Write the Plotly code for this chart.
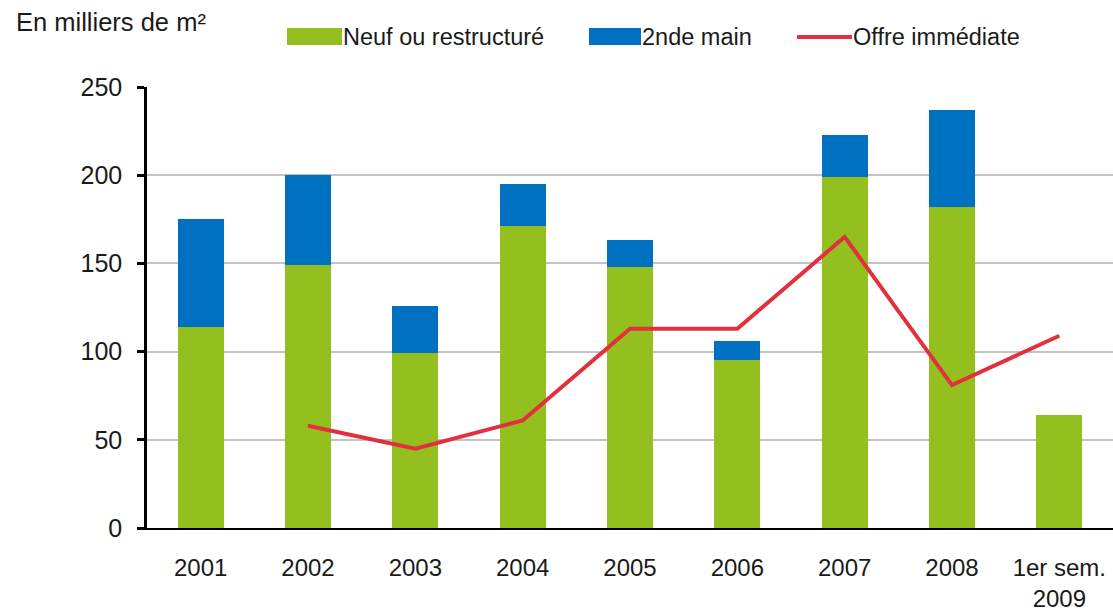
import plotly.graph_objects as go

categories = ["2001", "2002", "2003", "2004", "2005", "2006", "2007", "2008", "1er sem.<br>2009"]
neuf = [114, 149, 99, 171, 148, 95, 199, 182, 64]
seconde_main = [61, 51, 27, 24, 15, 11, 24, 55, 0]
offre = [None, 58, 45, 61, 113, 113, 165, 81, 109]

GREEN = "#93c01f"
BLUE = "#0070c0"
RED = "#e2313d"
FONT = "Liberation Sans, Arial, sans-serif"
TXT = "#1a1a1a"

W, H = 1113, 612
L, T, B = 147, 87, 84
pw = W - L
ph = H - T - B

def px(x):
    return (x - L) / pw

def py(y):
    return (H - B - y) / ph

fig = go.Figure()
fig.add_bar(x=categories, y=neuf, name="Neuf ou restructuré", marker_color=GREEN,
            marker_line_width=0, width=0.43)
fig.add_bar(x=categories, y=seconde_main, name="2nde main", marker_color=BLUE,
            marker_line_width=0, width=0.43)
fig.add_scatter(x=categories, y=offre, name="Offre immédiate", mode="lines",
                line=dict(color=RED, width=4), connectgaps=False)

shapes = []
annotations = []
legend_items = [
    (287, 342, "rect", GREEN, "Neuf ou restructuré"),
    (589, 641, "rect", BLUE, "2nde main"),
    (797, 852, "line", RED, "Offre immédiate"),
]
for x0, x1, kind, col, label in legend_items:
    if kind == "rect":
        shapes.append(dict(type="rect", xref="paper", yref="paper",
                           x0=px(x0), x1=px(x1), y0=py(45), y1=py(28),
                           fillcolor=col, line_width=0))
    else:
        shapes.append(dict(type="line", xref="paper", yref="paper",
                           x0=px(x0), x1=px(x1), y0=py(37), y1=py(37),
                           line=dict(color=col, width=4)))
    annotations.append(dict(xref="paper", yref="paper", x=px(x1 + 1), y=py(37),
                            text=label, showarrow=False, xanchor="left", yanchor="middle",
                            xshift=-2, font=dict(family=FONT, size=23.5, color=TXT)))

annotations.append(dict(xref="paper", yref="paper", x=px(16), y=py(22),
                        text="En milliers de m²", showarrow=False, xanchor="left",
                        yanchor="middle", xshift=-2, font=dict(family=FONT, size=25.5, color=TXT)))

fig.update_layout(
    width=W, height=H,
    margin=dict(l=L, r=0, t=T, b=B, autoexpand=False),
    barmode="stack",
    showlegend=False,
    plot_bgcolor="white", paper_bgcolor="white",
    font=dict(family=FONT, size=24, color=TXT),
    shapes=shapes, annotations=annotations,
)
fig.update_xaxes(type="category", range=[-0.5, 8.5], showline=True, linecolor="black",
                 linewidth=1.5, ticks="", ticklabelstandoff=17, showgrid=False,
                 automargin=False, tickfont=dict(size=24, color=TXT))
fig.update_yaxes(range=[0, 250], dtick=50, showline=True, linecolor="black", linewidth=2.5,
                 ticks="outside", ticklen=7, tickwidth=2.5, tickcolor="black",
                 ticklabelstandoff=10, showgrid=True, gridcolor="#c3c3c3", gridwidth=2,
                 zeroline=False, automargin=False, tickfont=dict(size=25, color=TXT))

fig.write_html("out.html", config={"displayModeBar": False},
               post_script="document.body.style.margin='0';")
